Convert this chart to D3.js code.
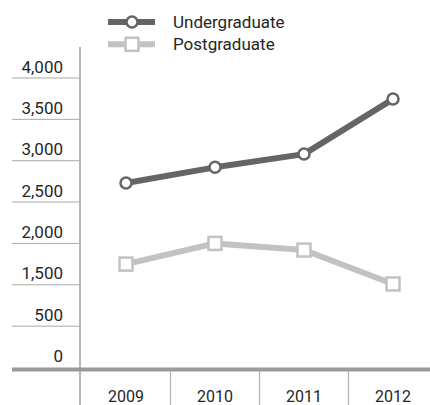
<!DOCTYPE html>
<html>
<head>
<meta charset="utf-8">
<script src="https://cdn.jsdelivr.net/npm/d3@7"></script>
<style>
  html, body { margin: 0; padding: 0; background: #fff; }
  svg { display: block; font-family: Roboto, "Noto Sans", sans-serif; }
</style>
</head>
<body>
<svg id="chart" width="430" height="405"></svg>
<script>
// ---- data ----
const years = ["2009", "2010", "2011", "2012"];
const undergraduate = [2730, 2920, 3080, 3745];
const postgraduate = [1750, 2000, 1920, 1510];
const yTickValues = [500, 1000, 1500, 2000, 2500, 3000, 3500, 4000];
const yTickLabels = ["0", "500", "1,500", "2,000", "2,500", "3,000", "3,500", "4,000"];
const seriesNames = ["Undergraduate", "Postgraduate"];

const colUG = "#656565";
const colPG = "#c2c2c5";

const svg = d3.select("#chart");

const x = d3.scaleBand().domain(years).range([81.5, 437.5]).padding(0);
const y = d3.scaleLinear().domain([500, 4000]).range([367.5, 78]);

// short gridlines on the left
svg.append("g").selectAll("line")
  .data(yTickValues.slice(1))
  .join("line")
  .attr("x1", 12).attr("x2", 80)
  .attr("y1", d => y(d)).attr("y2", d => y(d))
  .attr("stroke", "#a9a9a9").attr("stroke-width", 1);

// y tick labels
svg.append("g").selectAll("text")
  .data(yTickValues)
  .join("text")
  .attr("x", 63)
  .attr("y", d => y(d) - 5.5)
  .attr("text-anchor", "end")
  .attr("font-size", 17)
  .attr("fill", "#262626")
  .text((d, i) => yTickLabels[i]);

// vertical y axis line
svg.append("line")
  .attr("x1", 80).attr("x2", 80).attr("y1", 47).attr("y2", 405)
  .attr("stroke", "#b5b5b5").attr("stroke-width", 2);

// category dividers
svg.append("g").selectAll("line")
  .data(years.slice(1))
  .join("line")
  .attr("x1", d => x(d)).attr("x2", d => x(d))
  .attr("y1", 371).attr("y2", 405)
  .attr("stroke", "#b5b5b5").attr("stroke-width", 1.3);

// thick x axis
svg.append("line")
  .attr("x1", 12).attr("x2", 430).attr("y1", 369.5).attr("y2", 369.5)
  .attr("stroke", "#9a9a9a").attr("stroke-width", 4);

// year labels
svg.append("g").selectAll("text")
  .data(years)
  .join("text")
  .attr("x", d => x(d) + x.bandwidth() / 2)
  .attr("y", 401.5)
  .attr("text-anchor", "middle")
  .attr("font-size", 16)
  .attr("fill", "#262626")
  .text(d => d);

const line = d3.line()
  .x((d, i) => x(years[i]) + x.bandwidth() / 2)
  .y(d => y(d));

// postgraduate
svg.append("path")
  .datum(postgraduate)
  .attr("d", line)
  .attr("fill", "none")
  .attr("stroke", colPG)
  .attr("stroke-width", 6)
  .attr("stroke-linejoin", "round");
svg.append("g").selectAll("rect")
  .data(postgraduate)
  .join("rect")
  .attr("x", (d, i) => x(years[i]) + x.bandwidth() / 2 - 6.5)
  .attr("y", d => y(d) - 6.5)
  .attr("width", 13).attr("height", 13)
  .attr("fill", "#fff")
  .attr("stroke", colPG)
  .attr("stroke-width", 2.5);

// undergraduate
svg.append("path")
  .datum(undergraduate)
  .attr("d", line)
  .attr("fill", "none")
  .attr("stroke", colUG)
  .attr("stroke-width", 6)
  .attr("stroke-linejoin", "round");
svg.append("g").selectAll("circle")
  .data(undergraduate)
  .join("circle")
  .attr("cx", (d, i) => x(years[i]) + x.bandwidth() / 2)
  .attr("cy", d => y(d))
  .attr("r", 5.5)
  .attr("fill", "#fff")
  .attr("stroke", colUG)
  .attr("stroke-width", 2.5);

// legend
const legend = svg.append("g");
const legY = [22, 44.3];
const legCols = [colUG, colPG];
seriesNames.forEach((name, i) => {
  legend.append("line")
    .attr("x1", 108).attr("x2", 155)
    .attr("y1", legY[i]).attr("y2", legY[i])
    .attr("stroke", legCols[i]).attr("stroke-width", 6);
  if (i === 0) {
    legend.append("circle")
      .attr("cx", 132).attr("cy", legY[i]).attr("r", 5.5)
      .attr("fill", "#fff").attr("stroke", legCols[i]).attr("stroke-width", 2.5);
  } else {
    legend.append("rect")
      .attr("x", 132 - 6.5).attr("y", legY[i] - 6.5)
      .attr("width", 13).attr("height", 13)
      .attr("fill", "#fff").attr("stroke", legCols[i]).attr("stroke-width", 2.5);
  }
  legend.append("text")
    .attr("x", 173).attr("y", legY[i] + 6)
    .attr("font-size", 17)
    .attr("fill", "#262626")
    .text(name);
});
</script>
</body>
</html>
